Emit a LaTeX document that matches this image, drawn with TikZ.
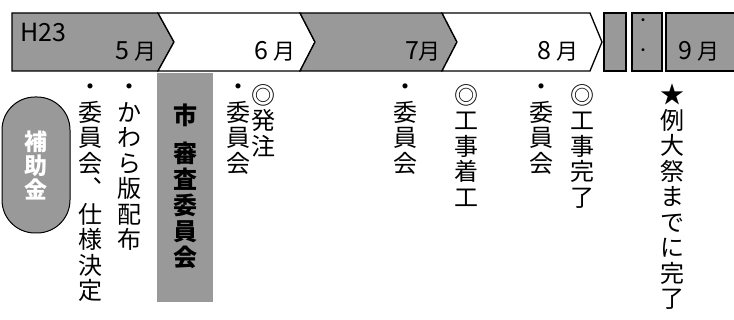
\documentclass[tikz,border=0pt]{standalone}
\usepackage{fontspec}
\newfontfamily\jp{Noto Sans CJK JP}
\newcommand\dg[1]{{\fontsize{25}{26}\selectfont #1}}
\begin{document}
\begin{tikzpicture}[x=1pt,y=-1pt,
  shadefill/.style={fill=black!40},
  band/.style={draw=black,line width=1.3pt,line join=miter},
  vcol/.style={font=\jp\fontsize{24}{25.5}\selectfont,align=center,anchor=north,inner sep=0pt,
    execute at begin node={\rule{0pt}{21pt}}},
  month/.style={font=\jp\fontsize{22}{24}\selectfont,anchor=base,inner sep=0pt}]
\useasboundingbox (0,0) rectangle (734,320);

% top band
\path[band,shadefill] (12,13) -- (158,13) -- (174,42) -- (158,71) -- (12,71) -- cycle;
\path[band,fill=white] (158,13) -- (300,13) -- (315,42) -- (300,71) -- (158,71) -- (174,42) -- cycle;
\path[band,shadefill] (300,13) -- (442,13) -- (457,42) -- (442,71) -- (300,71) -- (315,42) -- cycle;
\path[band,fill=white] (442,13) -- (590,13) -- (602,42) -- (590,71) -- (442,71) -- (457,42) -- cycle;
\path[band,shadefill] (604,13) rectangle (626,71);
\path[band,shadefill] (632,13) rectangle (662,71);
\fill[black!40] (666,13) rectangle (734,71);
\draw[black,line width=1.8pt] (735,13) -- (666,13) -- (666,71) -- (735,71);

% band labels
\node[month,anchor=base west] (h23) at (20,42) {\dg{H23}};
\node[month] (m5) at (136,60) {\dg{5}\hspace{5pt}月};
\node[month] (m6) at (275,60) {\dg{6}\hspace{5pt}月};
\node[month] (m7) at (423,60) {\dg{7}月};
\node[month] (m8) at (558,60) {\dg{8}\hspace{5pt}月};
\node[month] (m9) at (699,60) {\dg{9}\hspace{5pt}月};
\node[font=\jp\fontsize{14}{30}\selectfont,align=center,inner sep=0pt] (dots) at (643,37) {・\\・};

% rounded box
\node[draw=black,line width=1pt,shadefill,rounded corners=33pt,minimum width=68pt,minimum height=136pt,
  text=white,font=\jp\bfseries\fontsize{23}{24}\selectfont,align=center,inner sep=0pt] (box) at (36,165) {補\\助\\金};

% city committee shaded column
\node[shadefill,minimum width=56pt,minimum height=229pt,inner sep=0pt] (cityband) at (185,187.5) {};
\node[vcol,font=\jp\bfseries\fontsize{24}{26}\selectfont] (city) at (185,103) {市};
\node[vcol,font=\jp\bfseries\fontsize{24}{26}\selectfont] (review) at (185,142) {審\\査\\委\\員\\会};

% vertical text columns
\node[vcol] (c1) at (90,84) {・\\委\\員\\会\\︑\\仕\\様\\決\\定};
\node[vcol] (c2) at (129,84) {・\\か\\わ\\ら\\版\\配\\布};
\node[vcol] (c3) at (238,84) {・\\委\\員\\会};
\node[vcol] (c4) at (263,84) {◎\\発\\注};
\node[vcol] (c5) at (405,84) {・\\委\\員\\会};
\node[vcol] (c6) at (466,84) {◎\\工\\事\\着\\工};
\node[vcol] (c7) at (541,84) {・\\委\\員\\会};
\node[vcol] (c8) at (582,84) {◎\\工\\事\\完\\了};
\node[vcol] (c9) at (672,84) {★\\例\\大\\祭\\ま\\で\\に\\完\\了};
\end{tikzpicture}
\end{document}
